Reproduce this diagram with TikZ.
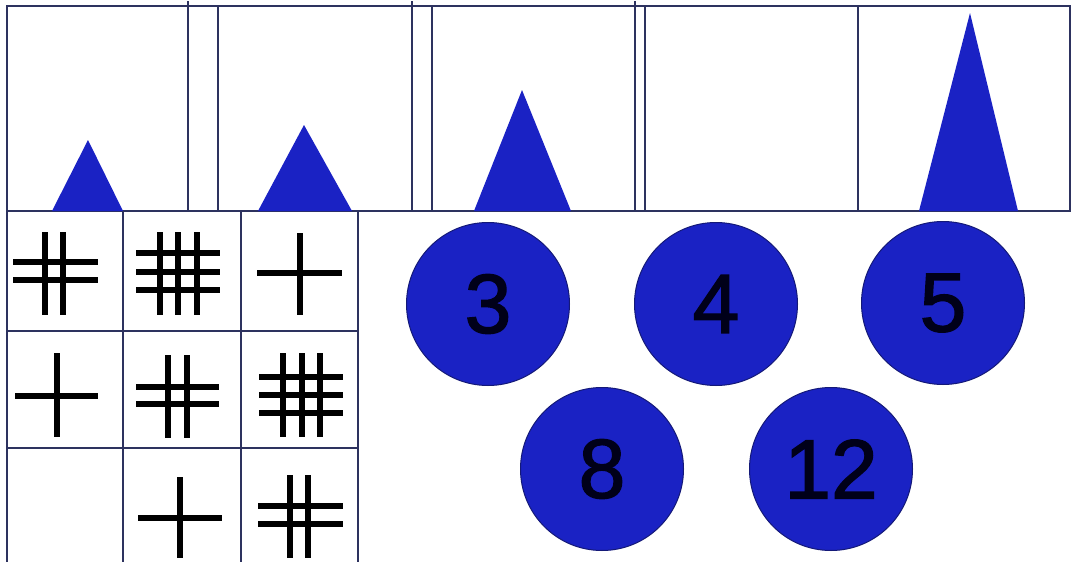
\documentclass[tikz,border=0pt]{standalone}
\usepackage{fontspec}
\setmainfont{Liberation Sans}
\newfontfamily\digitfont[FakeBold=1.6]{Liberation Sans}
\definecolor{blueC}{RGB}{26,34,196}
\definecolor{blueEdge}{RGB}{20,25,120}
\definecolor{frameC}{RGB}{45,50,95}
\tikzset{
  frame/.style={draw=frameC, line width=1.8pt},
  tri/.style={fill=blueC, draw=none},
  stick/.style={draw=black, line width=5.6pt, line cap=butt},
  disc/.style={circle, fill=blueC, draw=blueEdge, line width=1pt, minimum size=163pt, inner sep=0pt,
    font=\digitfont\fontsize{84}{84}\selectfont, text=black!90!blue}
}
\begin{document}
\begin{tikzpicture}[x=1pt,y=-1pt]
\useasboundingbox[fill=white] (0,0) rectangle (1077,562);
% top strip of boxes
\draw[frame] (7,6) rectangle (1070,211);
\foreach \xx in {188,412,635} \draw[frame] (\xx,1) -- (\xx,211);
\foreach \xx in {218,432,645,858} \draw[frame] (\xx,6) -- (\xx,211);
% triangles
\fill[tri] (52,211) -- (88,140) -- (123,211) -- cycle;
\fill[tri] (258,211) -- (304,125) -- (352,211) -- cycle;
\fill[tri] (474,211) -- (522,90) -- (571,211) -- cycle;
\fill[tri] (919,211) -- (970,13) -- (1018,211) -- cycle;
% grid
\foreach \xx in {7,123,241,358} \draw[frame] (\xx,211) -- (\xx,562);
\foreach \yy in {331,448} \draw[frame] (7,\yy) -- (358,\yy);
% row 1
\draw[stick] (45,232) -- (45,315) (63,232) -- (63,315) (13,262) -- (98,262) (13,280) -- (98,280);
\draw[stick] (160,232) -- (160,315) (178,232) -- (178,315) (197,232) -- (197,315)
  (136,253) -- (220,253) (136,272) -- (220,272) (136,290) -- (220,290);
\draw[stick] (300,233) -- (300,315) (257,273) -- (342,273);
% row 2
\draw[stick] (57,353) -- (57,437) (15,396) -- (98,396);
\draw[stick] (168,355) -- (168,438) (187,355) -- (187,438) (136,387) -- (219,387) (136,404) -- (219,404);
\draw[stick] (283,353) -- (283,437) (302,353) -- (302,437) (320,353) -- (320,437)
  (259,377) -- (343,377) (259,395) -- (343,395) (259,413) -- (343,413);
% row 3
\draw[stick] (180,477) -- (180,558) (138,518) -- (222,518);
\draw[stick] (290,475) -- (290,558) (308,475) -- (308,558) (258,506) -- (343,506) (258,524) -- (343,524);
% numbered discs
\node[disc] (c3) at (488,304) {3};
\node[disc] (c4) at (716,304) {4};
\node[disc] (c5) at (943,303) {5};
\node[disc] (c8) at (602,469) {8};
\node[disc] (c12) at (831,469) {12};
\end{tikzpicture}
\end{document}
